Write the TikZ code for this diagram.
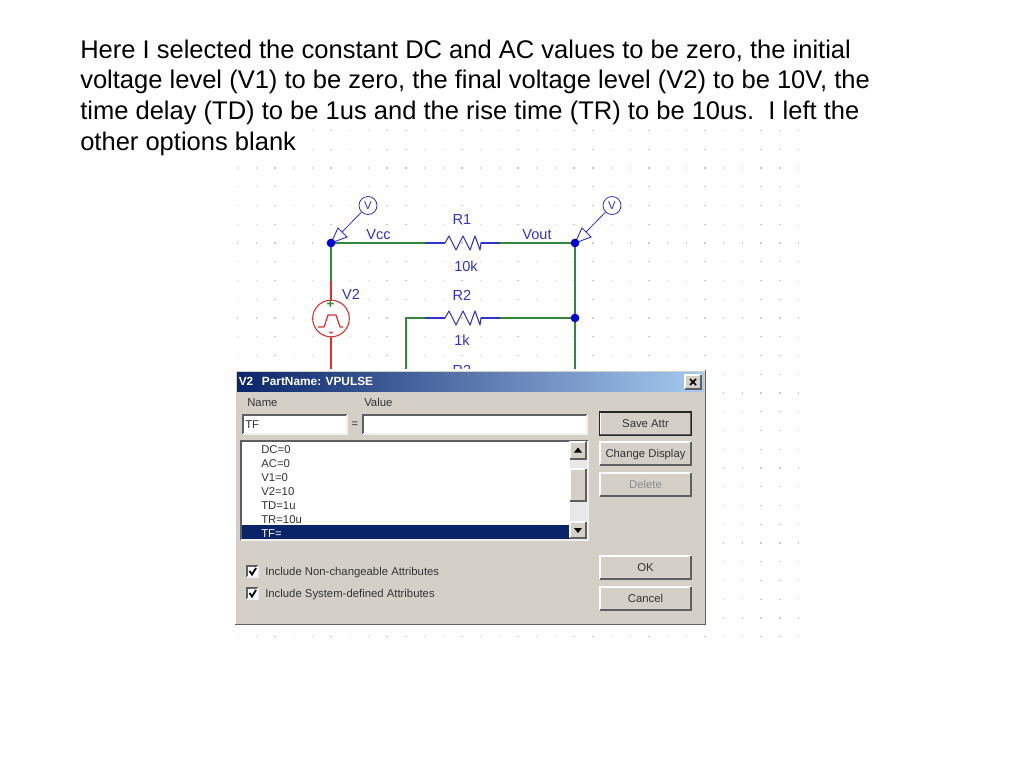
\documentclass[tikz,border=0pt]{standalone}
\usepackage{fontspec}
\setmainfont{Liberation Sans}
\definecolor{dlg}{RGB}{212,208,200}
\definecolor{wire}{RGB}{50,135,60}
\definecolor{part}{RGB}{50,50,205}
\definecolor{src}{RGB}{225,45,45}
\definecolor{sel}{RGB}{10,36,106}
\definecolor{capblue}{RGB}{166,202,240}
\definecolor{griddot}{RGB}{200,204,200}
\definecolor{edge}{RGB}{95,95,95}
\tikzset{
 x=0.75pt,y=-0.75pt,
 body/.style={anchor=base west,inner sep=0,font=\fontsize{19.15pt}{20pt}\selectfont,text=black},
 wirel/.style={draw=wire,line width=0.9pt},
 partl/.style={draw=part,line width=0.8pt},
 srcl/.style={draw=src,line width=0.9pt},
 lab/.style={inner sep=0,text=part,font=\fontsize{10.9pt}{12pt}\selectfont},
 junction/.style={circle,fill=blue!85!black,inner sep=0,minimum size=6.5pt},
 probe/.style={circle,draw=part,fill=white,inner sep=0,minimum size=13.5pt,line width=0.6pt,text=part,font=\fontsize{8.5pt}{9pt}\selectfont},
 ui/.style={inner sep=0,text=black!80,font=\fontsize{8.5pt}{10pt}\selectfont},
}
\newcommand{\raised}[4]{% x1 y1 x2 y2
 \fill[dlg] (#1,#2) rectangle (#3,#4);
 \draw[white,line width=0.8pt] (#1,#4) -- (#1,#2) -- (#3,#2);
 \draw[edge,line width=1pt] (#1,#4) -- (#3,#4) -- (#3,#2);
}
\newcommand{\sunken}[4]{%
 \fill[white] (#1,#2) rectangle (#3,#4);
 \draw[edge,line width=0.9pt] (#1,#4) -- (#1,#2) -- (#3,#2);
 \draw[black!6,line width=0.8pt] (#1,#4) -- (#3,#4) -- (#3,#2);
}
\begin{document}
\begin{tikzpicture}
\useasboundingbox (0,0) rectangle (1024,768);
\fill[white] (0,0) rectangle (1024,768);
% grid
\foreach \i in {4,...,30}{\foreach \j in {-2,-1}{
  \fill[griddot] ({237.5+\i*18.7-0.7},{168+\j*18.75-0.7}) rectangle +(1.4,1.4);
}}
\foreach \i in {0,...,30}{\foreach \j in {0,...,25}{
  \fill[griddot] ({237.5+\i*18.7-0.7},{168+\j*18.75-0.7}) rectangle +(1.4,1.4);
}}
% text
\node[body] (l1) at (80,58) {Here I selected the constant DC and AC values to be zero, the initial};
\node[body] (l2) at (80,88.5) {voltage level (V1) to be zero, the final voltage level (V2) to be 10V, the};
\node[body] (l3) at (80,119) {time delay (TD) to be 1us and the rise time (TR) to be 10us.\ \ I left the};
\node[body] (l4) at (80,150) {other options blank};
% circuit coordinates
\coordinate (vcc) at (331,243);
\coordinate (vout) at (575,243);
\coordinate (n2) at (575,318);
\coordinate (r1l) at (445,243);
\coordinate (r1r) at (481,243);
\coordinate (r2l) at (445,318);
\coordinate (r2r) at (481,318);
\coordinate (w2) at (406,318);
\coordinate (w2b) at (406,372);
\coordinate (outb) at (575,372);
\coordinate (v2t) at (331,300);
\coordinate (v2b) at (331,337);
\coordinate (v2tw) at (331,281);
\coordinate (v2bot) at (331,372);
\draw[wirel] (vcc) -- (425,243);
\draw[partl] (425,243) -- (r1l);
\draw[wirel] (500,243) -- (vout);
\draw[partl] (r1r) -- (500,243);
\draw[wirel,line width=1.25pt] (vout) -- (n2) -- (outb);
\draw[wirel] (n2) -- (500,318);
\draw[partl] (r2r) -- (500,318);
\draw[partl] (425,318) -- (r2l);
\draw[wirel] (425,318) -- (w2) -- (w2b);
\draw[wirel] (vcc) -- (v2tw);
\draw[srcl] (v2tw) -- (v2t);
\draw[srcl] (v2b) -- (v2bot);
\draw[partl,line join=round] (r1l) -- ++(4,-7) -- ++(7,14) -- ++(7,-14) -- ++(7,14) -- ++(5,-14) -- ++(5,14) -- (r1r);
\draw[partl,line join=round] (r2l) -- ++(4,-7) -- ++(7,14) -- ++(7,-14) -- ++(7,14) -- ++(5,-14) -- ++(5,14) -- (r2r);
% source
\node[circle,draw=src,fill=white,line width=0.8pt,minimum size=27.5pt,inner sep=0] (v2) at (331,318.5) {};
\draw[srcl,line join=round] (318,327) -- (324,327) -- (328,315) -- (336,315) -- (340,327) -- (343,327);
\node[inner sep=0,text=wire,font=\fontsize{10pt}{10pt}\bfseries\selectfont] (plus) at (330.5,304.5) {+};
\node[inner sep=0,text=src,font=\fontsize{10pt}{10pt}\bfseries\selectfont] (minus) at (331,334) {-};
\node[lab] (v2lab) at (351,294) {V2};
% labels
\node[lab] (vcclab) at (378.5,234.5) {Vcc};
\node[lab] (voutlab) at (537,234.5) {Vout};
\node[lab] (r1lab) at (462,219.5) {R1};
\node[lab] (r1val) at (466,266) {10k};
\node[lab] (r2lab) at (462,295) {R2};
\node[lab] (r2val) at (462,340.5) {1k};
\node[lab] (r3lab) at (462,370.5) {R3};
% probes
\node[probe] (p1) at (368,205.5) {V};
\node[probe] (p2) at (612,205.5) {V};
\coordinate (a1) at (342,232);
\coordinate (a2) at (586,232);
\draw[partl,line width=0.6pt] (p1) -- (a1);
\draw[partl,line width=0.6pt] (p2) -- (a2);
\draw[partl,line width=0.7pt,fill=white,line join=miter] (vcc) -- (338,228) -- (347,237) -- cycle;
\draw[partl,line width=0.7pt,fill=white,line join=miter] (vout) -- (582,228) -- (591,237) -- cycle;
\node[junction] (j1) at (vcc) {};
\node[junction] (j2) at (vout) {};
\node[junction] (j3) at (n2) {};
% dialog
\fill[dlg] (235,370) rectangle (706,625);
\draw[white,line width=0.9pt] (235,625) -- (235,370) -- (706,370);
\draw[edge,line width=1.4pt] (235,624.5) -- (705.5,624.5) -- (705.5,370);
\shade[left color=sel,right color=capblue] (237,372) rectangle (703.5,391);
\node[inner sep=0,anchor=base west,text=white,font=\fontsize{8.9pt}{10pt}\bfseries\selectfont] (title) at (238.5,385.5) {V2\hspace{4pt} PartName: VPULSE};
\raised{685}{375}{701}{389}
\draw[black,line width=1.1pt] (690,379) -- (696,385) (696,379) -- (690,385);
\node[ui,anchor=base west] (namel) at (247,406.5) {Name};
\node[ui,anchor=base west] (valuel) at (364,406.5) {Value};
\sunken{243}{415}{347}{434}
\node[ui,anchor=base west] (nameval) at (245,428) {TF};
\node[ui] (eq) at (355,425) {=};
\sunken{363}{415}{587}{434}
\sunken{241}{441}{588}{540}
\node[ui,anchor=base west] (i1) at (261,453.5) {DC=0};
\node[ui,anchor=base west] (i2) at (261,467) {AC=0};
\node[ui,anchor=base west] (i3) at (261,481) {V1=0};
\node[ui,anchor=base west] (i4) at (261,495) {V2=10};
\node[ui,anchor=base west] (i5) at (261,509) {TD=1u};
\node[ui,anchor=base west] (i6) at (261,523) {TR=10u};
\fill[sel] (242,525) rectangle (569.5,539);
\node[ui,anchor=base west,text=white] (i7) at (261,537) {TF=};
% scrollbar
\fill[black!9] (570,442) rectangle (587,539);
\raised{570}{442}{586}{459}
\fill[black] (578,447.5) -- (574,452.5) -- (582,452.5) -- cycle;
\raised{570}{469}{586}{501}
\raised{570}{522}{586}{538}
\fill[black] (578,533) -- (574,528) -- (582,528) -- cycle;
% buttons
\raised{600}{412}{691}{435}
\draw[black!85,line width=0.9pt] (599.5,412) rectangle (691.5,435.5);
\node[ui] (b1) at (645.5,424) {Save Attr};
\raised{600}{442}{691}{465}
\node[ui] (b2) at (645.5,454.5) {Change Display};
\raised{600}{473}{691}{496}
\node[ui,text=black!45] (b3) at (645.5,484) {Delete};
\raised{600}{556}{691}{579}
\node[ui] (b4) at (645.5,567.5) {OK};
\raised{600}{587}{691}{610}
\node[ui] (b5) at (645.5,598) {Cancel};
% checks
\sunken{247}{566}{258}{577}
\draw[black,line width=1.4pt] (249.5,571) -- (252,574.5) -- (256,568);
\node[ui,anchor=base west] (c1) at (265,575.5) {Include Non-changeable Attributes};
\sunken{247}{588}{258}{599}
\draw[black,line width=1.4pt] (249.5,593) -- (252,596.5) -- (256,590);
\node[ui,anchor=base west] (c2) at (265,597.5) {Include System-defined Attributes};
\end{tikzpicture}
\end{document}
